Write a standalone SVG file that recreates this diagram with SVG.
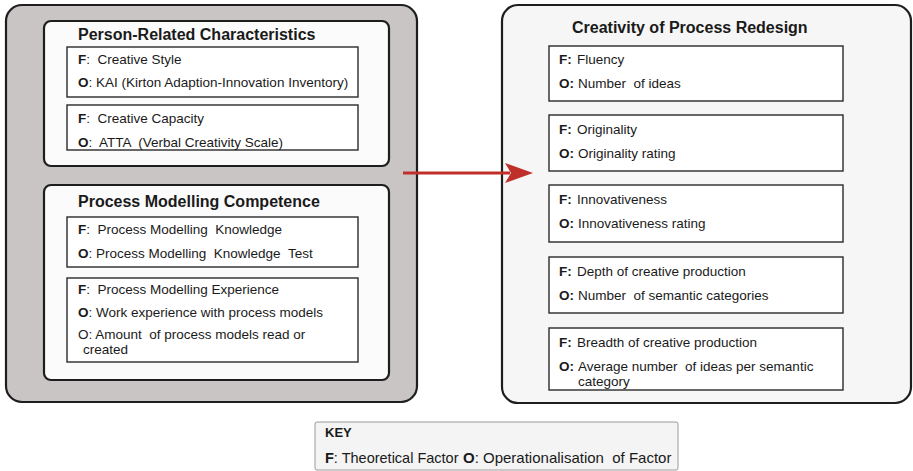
<svg xmlns="http://www.w3.org/2000/svg" width="913" height="471" viewBox="0 0 913 471">
<style>
text{font-family:"Liberation Sans",Arial,sans-serif;fill:#1a1a1a;white-space:pre}
.t{font-size:16px;font-weight:bold}
.s{font-size:13.5px}
.b{font-weight:bold}
.outer{stroke:#1e1e1e;stroke-width:2.2}
.inner{fill:#fbfbfb;stroke:#1e1e1e;stroke-width:2.2}
.sub{fill:#ffffff;stroke:#2a2a2a;stroke-width:1.4}
</style>
<rect width="913" height="471" fill="#ffffff"/>
<g id="left-panel">
<rect class="outer" x="6" y="5" width="411" height="397" rx="16" fill="#c9c5c4"/>
</g>
<g id="person-related">
<rect class="inner" x="44" y="21" width="345" height="145" rx="7"/>
<text class="t" x="78" y="40">Person-Related Characteristics</text>
<g id="creative-style">
<rect class="sub" x="67" y="47" width="291" height="50"/>
<text class="s" x="78" y="64" xml:space="preserve"><tspan class="b">F</tspan>:  Creative Style</text>
<text class="s" x="78" y="87" xml:space="preserve"><tspan class="b">O</tspan>: KAI (Kirton Adaption-Innovation Inventory)</text>
</g>
<g id="creative-capacity">
<rect class="sub" x="67" y="105" width="291" height="45"/>
<text class="s" x="78" y="123" xml:space="preserve"><tspan class="b">F</tspan>:  Creative Capacity</text>
<text class="s" x="78" y="147" xml:space="preserve"><tspan class="b">O</tspan>:  ATTA  (Verbal Creativity Scale)</text>
</g>
</g>
<g id="process-modelling">
<rect class="inner" x="44" y="185" width="345" height="195" rx="7"/>
<text class="t" x="78" y="207">Process Modelling Competence</text>
<g id="pm-knowledge">
<rect class="sub" x="67" y="217" width="291" height="50"/>
<text class="s" x="78" y="234" xml:space="preserve"><tspan class="b">F</tspan>:  Process Modelling  Knowledge</text>
<text class="s" x="78" y="258" xml:space="preserve"><tspan class="b">O</tspan>: Process Modelling  Knowledge  Test</text>
</g>
<g id="pm-experience">
<rect class="sub" x="67" y="278" width="291" height="84"/>
<text class="s" x="78" y="294" xml:space="preserve"><tspan class="b">F</tspan>:  Process Modelling Experience</text>
<text class="s" x="78" y="317" xml:space="preserve"><tspan class="b">O</tspan>: Work experience with process models</text>
<text class="s" x="78" y="339" xml:space="preserve">O: Amount  of process models read or</text>
<text class="s" x="83" y="354">created</text>
</g>
</g>
<g id="creativity">
<rect class="outer" x="502" y="5" width="409" height="398" rx="16" fill="#f6f6f6"/>
<text class="t" x="572" y="33">Creativity of Process Redesign</text>
<g id="fluency">
<rect class="sub" x="549" y="46" width="294" height="55"/>
<text class="s" x="559" y="64"><tspan class="b">F:</tspan><tspan x="577">Fluency</tspan></text>
<text class="s" x="559" y="88" xml:space="preserve"><tspan class="b">O:</tspan><tspan x="578">Number  of ideas</tspan></text>
</g>
<g id="originality">
<rect class="sub" x="549" y="115" width="294" height="56"/>
<text class="s" x="559" y="134"><tspan class="b">F:</tspan><tspan x="577">Originality</tspan></text>
<text class="s" x="559" y="158"><tspan class="b">O:</tspan><tspan x="578">Originality rating</tspan></text>
</g>
<g id="innovativeness">
<rect class="sub" x="549" y="185" width="294" height="57"/>
<text class="s" x="559" y="204"><tspan class="b">F:</tspan><tspan x="577">Innovativeness</tspan></text>
<text class="s" x="559" y="228"><tspan class="b">O:</tspan><tspan x="578">Innovativeness rating</tspan></text>
</g>
<g id="depth">
<rect class="sub" x="549" y="257" width="294" height="56"/>
<text class="s" x="559" y="276"><tspan class="b">F:</tspan><tspan x="577">Depth of creative production</tspan></text>
<text class="s" x="559" y="300" xml:space="preserve"><tspan class="b">O:</tspan><tspan x="578">Number  of semantic categories</tspan></text>
</g>
<g id="breadth">
<rect class="sub" x="549" y="328" width="294" height="62"/>
<text class="s" x="559" y="347"><tspan class="b">F:</tspan><tspan x="577">Breadth of creative production</tspan></text>
<text class="s" x="559" y="371" xml:space="preserve"><tspan class="b">O:</tspan><tspan x="578">Average number  of ideas per semantic</tspan></text>
<text class="s" x="578" y="386">category</text>
</g>
</g>
<g id="connectors">
<line x1="403" y1="173" x2="510" y2="173" stroke="#c0302b" stroke-width="3"/>
<polygon points="533,173 505,163 511,173 505,183" fill="#c0302b"/>
</g>
<g id="key">
<rect x="315" y="422" width="363" height="48" rx="2" fill="#f4f4f4" stroke="#9a9a9a" stroke-width="1"/>
<text x="325" y="437" font-size="13" font-weight="bold">KEY</text>
<text x="325" y="463" font-size="14.5"><tspan font-weight="bold">F</tspan>: Theoretical Factor</text>
<text x="463" y="463" font-size="15" xml:space="preserve"><tspan font-weight="bold">O</tspan>: Operationalisation  of Factor</text>
</g>
</svg>
